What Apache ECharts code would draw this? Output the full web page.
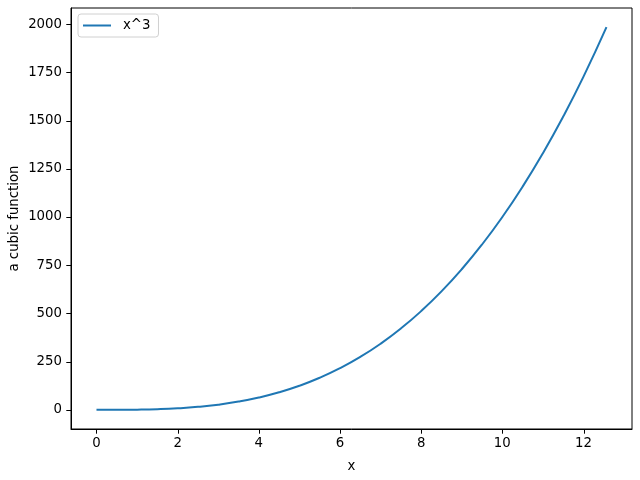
<!DOCTYPE html>
<html>
<head>
<meta charset="utf-8">
<script src="https://cdn.jsdelivr.net/npm/echarts@6/dist/echarts.min.js"></script>
<style>html,body{margin:0;padding:0;background:#fff;}#c{width:640px;height:480px;}</style>
</head>
<body>
<div id="c"></div>
<script>
var xValues = [0, 0.5, 1, 1.5, 2, 2.5, 3, 3.5, 4, 4.5, 5, 5.5, 6, 6.5, 7, 7.5, 8, 8.5, 9, 9.5, 10, 10.5, 11, 11.5, 12, 12.566];
var yValues = [0, 0.125, 1, 3.375, 8, 15.6, 27, 42.9, 64, 91.1, 125, 166.4, 216, 274.6, 343, 421.9, 512, 614.1, 729, 857.4, 1000, 1157.6, 1331, 1520.9, 1728, 1984.4];
var xTicks = [0, 2, 4, 6, 8, 10, 12];
var yTicks = [0, 250, 500, 750, 1000, 1250, 1500, 1750, 2000];
var seriesName = 'x^3';
var xName = 'x';
var yName = 'a cubic function';

var X_MIN = -0.628, X_MAX = 13.195, Y_MIN = -99.22, Y_MAX = 2083.6;
var TICK_LEN = 4.7;
var data = xValues.map(function (x, i) { return [x, yValues[i]]; });
var font = 'DejaVu Sans';
var chart = echarts.init(document.getElementById('c'), null, {renderer: 'canvas'});

chart.setOption({
  animation: false,
  backgroundColor: '#ffffff',
  textStyle: {fontFamily: font},
  grid: {left: 71, right: 8, top: 8, bottom: 51, show: true, borderColor: '#000', borderWidth: 1, containLabel: false, outerBoundsMode: 'none'},
  legend: {
    left: 78, top: 14, orient: 'vertical',
    data: [{name: seriesName, icon: 'rect'}],
    itemWidth: 28, itemHeight: 2, itemGap: 0,
    padding: [5, 8, 5, 5],
    backgroundColor: '#fff',
    borderColor: '#d0d0d0', borderWidth: 1, borderRadius: 3,
    textStyle: {fontFamily: font, fontSize: 13.3, color: '#000', padding: [0, 0, 0, 7]}
  },
  xAxis: {
    type: 'value', min: X_MIN, max: X_MAX,
    name: xName, nameLocation: 'middle', nameGap: 31, nameMoveOverlap: false,
    nameTextStyle: {fontFamily: font, fontSize: 13.3, color: '#000'},
    axisLine: {show: true, onZero: false, lineStyle: {color: '#000', width: 1}},
    axisTick: {show: false},
    axisLabel: {show: true, customValues: xTicks, margin: 8, fontFamily: font, fontSize: 13.3, color: '#000', formatter: function (v) { return String(v); }},
    splitLine: {show: false}
  },
  yAxis: {
    type: 'value', min: Y_MIN, max: Y_MAX,
    name: yName, nameLocation: 'middle', nameGap: 50, nameRotate: 90, nameMoveOverlap: false,
    nameTextStyle: {fontFamily: font, fontSize: 13.3, color: '#000'},
    axisLine: {show: true, onZero: false, lineStyle: {color: '#000', width: 1}},
    axisTick: {show: false},
    axisLabel: {show: true, customValues: yTicks, margin: 9, fontFamily: font, fontSize: 13.3, color: '#000', formatter: function (v) { return String(v); }},
    splitLine: {show: false}
  },
  series: [{
    name: seriesName, type: 'line', data: data,
    showSymbol: false, smooth: true, clip: true, z: 3,
    lineStyle: {color: '#1f77b4', width: 2},
    itemStyle: {color: '#1f77b4'}
  }]
});

// Tick marks placed through the chart's own scales
var tickGraphics = [];
xTicks.forEach(function (v) {
  var p = chart.convertToPixel({gridIndex: 0}, [v, Y_MIN]);
  var x = Math.round(p[0]) + 0.5;
  tickGraphics.push({type: 'line', silent: true, z: 10,
    shape: {x1: x, y1: p[1], x2: x, y2: p[1] + TICK_LEN},
    style: {stroke: '#000', lineWidth: 1}});
});
yTicks.forEach(function (v) {
  var p = chart.convertToPixel({gridIndex: 0}, [X_MIN, v]);
  var y = Math.round(p[1]) + 0.5;
  tickGraphics.push({type: 'line', silent: true, z: 10,
    shape: {x1: p[0] - TICK_LEN, y1: y, x2: p[0], y2: y},
    style: {stroke: '#000', lineWidth: 1}});
});
chart.setOption({graphic: {elements: tickGraphics}});
</script>
</body>
</html>
